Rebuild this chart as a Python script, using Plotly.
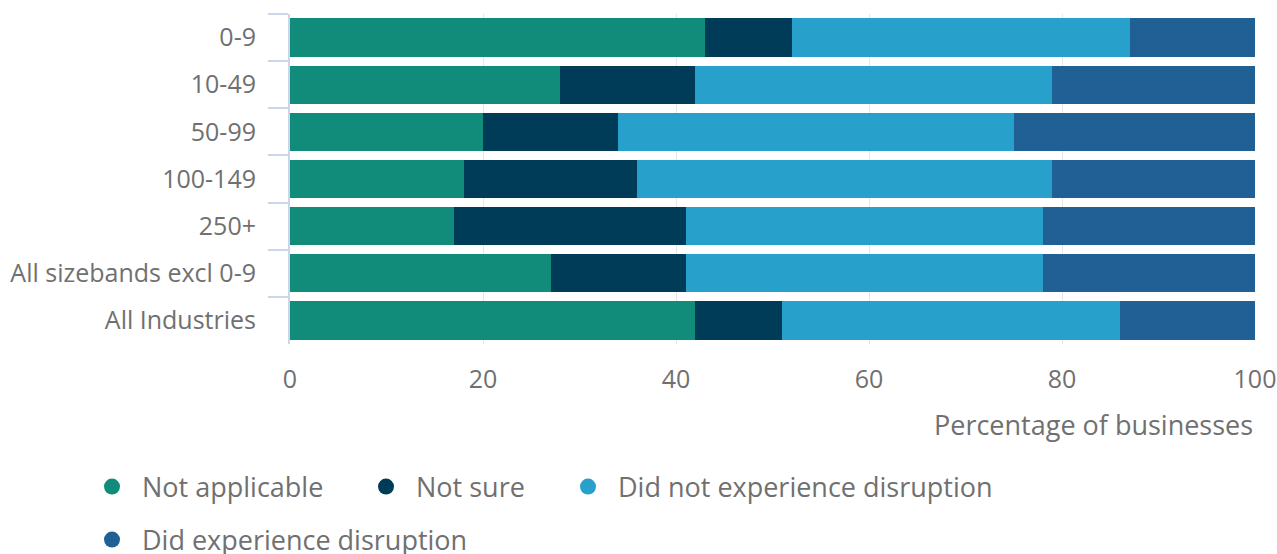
import plotly.graph_objects as go

categories = ["0-9", "10-49", "50-99", "100-149", "250+", "All sizebands excl 0-9", "All Industries"]
not_applicable = [43, 28, 20, 18, 17, 27, 42]
not_sure = [9, 14, 14, 18, 24, 14, 9]
did_not_experience = [35, 37, 41, 43, 37, 37, 35]
did_experience = [13, 21, 25, 21, 22, 22, 14]

series_names = ["Not applicable", "Not sure", "Did not experience disruption", "Did experience disruption"]
series_values = [not_applicable, not_sure, did_not_experience, did_experience]
colors = ["#118C7B", "#003C57", "#27A0CC", "#206095"]
legend_ids = ["legend", "legend2", "legend3", "legend4"]
# legend placement in pixels (left, vertical centre)
legend_px = [(82, 487), (356, 487), (558, 487), (82, 540)]

TEXT = "#707070"
FONT = "Open Sans"
W, H = 1277, 554

fig = go.Figure()
for name, vals, color in zip(series_names, series_values, colors):
    fig.add_trace(go.Bar(
        y=categories, x=vals, name=name, orientation="h",
        marker=dict(color=color, line=dict(width=0)),
        showlegend=False,
        hovertemplate="%{y}: %{x}%<extra>" + name + "</extra>",
    ))
for name, color, lg in zip(series_names, colors, legend_ids):
    fig.add_trace(go.Scatter(
        x=[None], y=[None], mode="markers", name=name,
        marker=dict(color=color, size=26, symbol="circle"),
        legend=lg, showlegend=True,
    ))

legends = {}
for lg, (px, py) in zip(legend_ids, legend_px):
    legends[lg] = dict(
        orientation="h", xref="container", yref="container",
        x=px / W, y=1 - py / H, xanchor="left", yanchor="middle",
        font=dict(size=27, color=TEXT, family=FONT), itemsizing="trace",
        itemwidth=50,
        bgcolor="rgba(0,0,0,0)", traceorder="normal",
    )

fig.update_layout(
    width=W, height=H,
    barmode="stack", bargap=0.19,
    paper_bgcolor="white", plot_bgcolor="white",
    margin=dict(l=290, r=22, t=14, b=210, autoexpand=False),
    font=dict(family=FONT, color=TEXT, size=24),
    xaxis=dict(
        range=[0, 100], tickvals=[0, 20, 40, 60, 80, 100],
        showgrid=True, gridcolor="#e6e6e6", gridwidth=1,
        zeroline=False, showline=False, ticks="",
        tickfont=dict(size=25, color=TEXT, family=FONT),
        ticklabelstandoff=18, automargin=False,
    ),
    yaxis=dict(
        type="category", categoryorder="array", categoryarray=categories,
        autorange="reversed",
        tickson="boundaries", ticks="outside", ticklen=20, tickwidth=2,
        tickcolor="#ccd6eb", showline=True, linecolor="#ccd6eb", linewidth=2,
        showgrid=False, tickfont=dict(size=25, color=TEXT, family=FONT),
        ticklabelstandoff=27, automargin=False,
    ),
    annotations=[dict(
        text="Percentage of businesses", xref="paper", yref="paper",
        x=1, y=(344 - 424) / 330, xanchor="right", yanchor="middle",
        showarrow=False, font=dict(size=27, color=TEXT, family=FONT),
    )],
    **legends,
)

fig.write_html(
    "out.html",
    config={"displayModeBar": False},
    post_script="document.body.style.margin='0';",
)
